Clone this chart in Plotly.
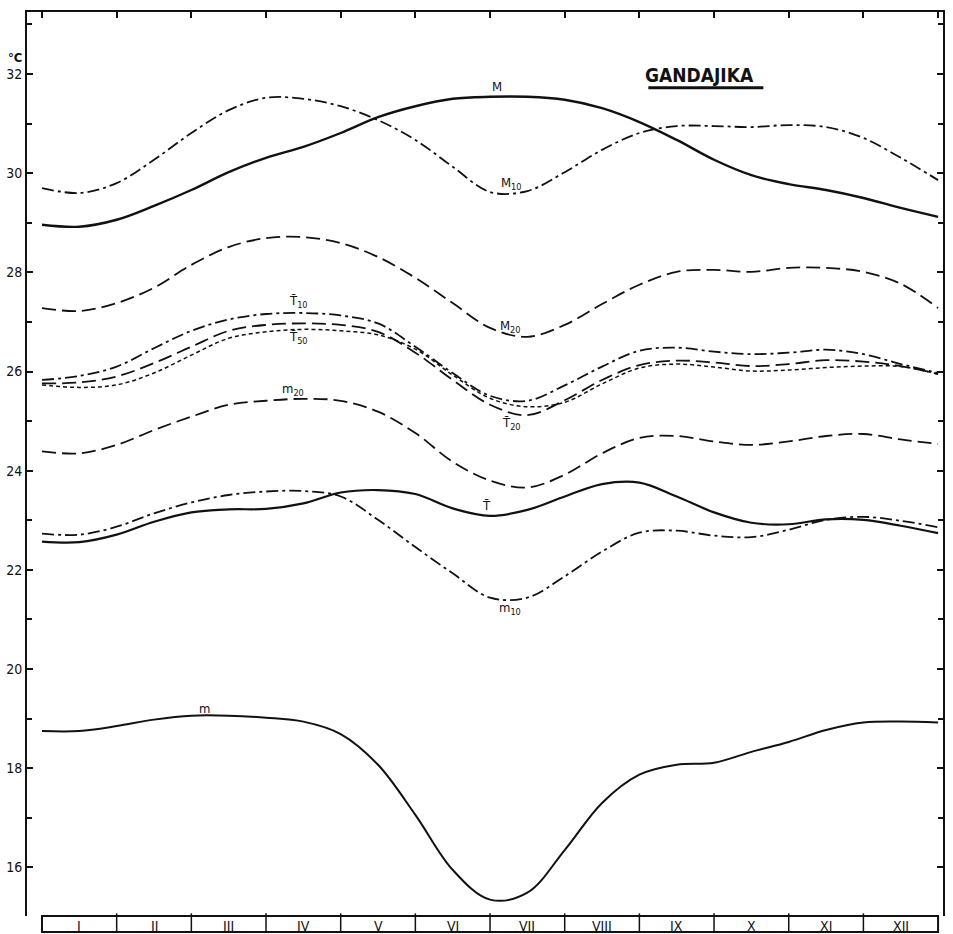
import plotly.graph_objects as go

# Month positions (0 = start of January, 12 = end of December), half-month steps
MONTH_POS = [0, 0.5, 1, 1.5, 2, 2.5, 3, 3.5, 4, 4.5, 5, 5.5, 6, 6.5,
             7, 7.5, 8, 8.5, 9, 9.5, 10, 10.5, 11, 11.5, 12]
MONTH_LABELS = ["I", "II", "III", "IV", "V", "VI", "VII", "VIII", "IX", "X", "XI", "XII"]
Y_TICKS = [16, 18, 20, 22, 24, 26, 28, 30, 32]

M = [28.96, 28.92, 29.06, 29.34, 29.66, 30.02, 30.31, 30.53, 30.81, 31.13, 31.35, 31.50, 31.54,
     31.54, 31.48, 31.31, 31.03, 30.67, 30.27, 29.96, 29.78, 29.66, 29.50, 29.30, 29.12]
M10 = [29.70, 29.60, 29.80, 30.27, 30.81, 31.27, 31.52, 31.50, 31.35, 31.07, 30.67, 30.13, 29.62,
       29.64, 30.02, 30.47, 30.81, 30.95, 30.95, 30.93, 30.97, 30.93, 30.71, 30.31, 29.86]
M20 = [27.28, 27.22, 27.38, 27.69, 28.15, 28.51, 28.69, 28.71, 28.59, 28.31, 27.89, 27.38, 26.88,
       26.70, 26.94, 27.36, 27.75, 28.01, 28.05, 28.01, 28.09, 28.09, 28.01, 27.77, 27.28]
T10 = [25.83, 25.91, 26.10, 26.47, 26.82, 27.05, 27.16, 27.18, 27.13, 26.97, 26.50, 25.97, 25.51,
       25.41, 25.72, 26.10, 26.42, 26.48, 26.40, 26.35, 26.38, 26.44, 26.35, 26.15, 25.97]
T20 = [25.76, 25.78, 25.90, 26.17, 26.50, 26.82, 26.94, 26.97, 26.94, 26.80, 26.38, 25.83, 25.33,
       25.12, 25.42, 25.83, 26.13, 26.22, 26.18, 26.11, 26.15, 26.23, 26.20, 26.11, 25.95]
T50 = [25.73, 25.68, 25.73, 25.97, 26.33, 26.67, 26.80, 26.85, 26.82, 26.74, 26.45, 25.93, 25.46,
       25.29, 25.38, 25.75, 26.07, 26.15, 26.09, 26.01, 26.03, 26.08, 26.11, 26.10, 25.95]
m20 = [24.39, 24.35, 24.52, 24.82, 25.09, 25.33, 25.41, 25.45, 25.41, 25.19, 24.76, 24.18, 23.80,
       23.66, 23.92, 24.35, 24.66, 24.70, 24.59, 24.52, 24.59, 24.70, 24.74, 24.63, 24.54]
T = [22.57, 22.56, 22.71, 22.97, 23.16, 23.22, 23.23, 23.34, 23.56, 23.61, 23.53, 23.24, 23.09,
     23.21, 23.48, 23.73, 23.76, 23.48, 23.16, 22.95, 22.92, 23.02, 23.01, 22.89, 22.74]
m10 = [22.73, 22.71, 22.87, 23.14, 23.36, 23.51, 23.58, 23.59, 23.48, 23.01, 22.46, 21.93, 21.44,
       21.44, 21.87, 22.37, 22.75, 22.79, 22.69, 22.66, 22.81, 23.01, 23.07, 22.99, 22.86]
m = [18.75, 18.75, 18.85, 18.98, 19.06, 19.06, 19.02, 18.94, 18.69, 18.07, 17.06, 15.95, 15.35,
     15.49, 16.35, 17.30, 17.87, 18.07, 18.11, 18.33, 18.53, 18.77, 18.92, 18.94, 18.92]

INK = "#111111"
FONT = "DejaVu Sans Condensed, DejaVu Sans, Arial"

DASHDOT = "12px,4px,3px,4px"
LONGDASH = "14px,6px"
SHORTDASH = "4px,3px"

series = [
    ("M", M, "solid", 2.4),
    ("M10", M10, DASHDOT, 1.8),
    ("M20", M20, LONGDASH, 1.8),
    ("T10", T10, DASHDOT, 1.8),
    ("T20", T20, LONGDASH, 1.8),
    ("T50", T50, SHORTDASH, 1.5),
    ("m20", m20, LONGDASH, 1.8),
    ("T", T, "solid", 2.2),
    ("m10", m10, DASHDOT, 1.8),
    ("m", m, "solid", 2.0),
]

fig = go.Figure()
for name, vals, dash, w in series:
    fig.add_trace(go.Scatter(
        x=MONTH_POS, y=vals, mode="lines", name=name,
        line=dict(color=INK, width=w, dash=dash, shape="spline", smoothing=1.0),
        showlegend=False, hoverinfo="skip"))

# curve labels
labels = [
    ("M", 6.09, 31.74),
    ("M<sub>10</sub>", 6.29, 29.80),
    ("M<sub>20</sub>", 6.27, 26.90),
    ("T\u0304<sub>10</sub>", 3.43, 27.42),
    ("T\u0304<sub>50</sub>", 3.43, 26.68),
    ("T\u0304<sub>20</sub>", 6.29, 24.96),
    ("m<sub>20</sub>", 3.36, 25.63),
    ("T\u0304", 5.95, 23.30),
    ("m<sub>10</sub>", 6.27, 21.22),
    ("m", 2.18, 19.20),
]
ann = []
for txt, xx, yy in labels:
    ann.append(dict(x=xx, y=yy, xref="x", yref="y", text=txt, showarrow=False,
                    font=dict(family=FONT, size=13, color=INK)))

ann.append(dict(x=8.81, y=31.98, xref="x", yref="y", text="<b>GANDAJIKA</b>", showarrow=False,
                font=dict(family=FONT, size=19, color=INK)))
ann.append(dict(x=0, y=32.33, xref="paper", yref="y", xanchor="right", text="<b>°C</b>",
                showarrow=False, xshift=-3, font=dict(family=FONT, size=13, color=INK)))

for i, lab in enumerate(MONTH_LABELS):
    ann.append(dict(x=i + 0.5, y=-0.0098, xref="x", yref="paper", text=lab, showarrow=False,
                    yanchor="middle", yshift=-1, font=dict(family=FONT, size=14, color=INK)))

shapes = []
# underline of title
shapes.append(dict(type="line", xref="x", yref="y", x0=8.12, x1=9.66, y0=31.72, y1=31.72,
                   line=dict(color=INK, width=3)))
# month strip
shapes.append(dict(type="rect", xref="x", yref="paper", x0=0, x1=12, y0=0, y1=-0.0177,
                   line=dict(color=INK, width=2)))
for k in range(1, 12):
    shapes.append(dict(type="line", xref="x", yref="paper", x0=k, x1=k, y0=0.003, y1=-0.0177,
                       line=dict(color=INK, width=1.5)))

fig.update_layout(
    width=953, height=934,
    autosize=False,
    margin=dict(l=27, r=10, t=12, b=18, pad=0, autoexpand=False),
    paper_bgcolor="white", plot_bgcolor="white",
    font=dict(family=FONT, color=INK),
    annotations=ann, shapes=shapes,
    xaxis=dict(range=[-0.2009, 12.066], side="top", tickvals=list(range(13)),
               ticks="inside", ticklen=6, tickwidth=1.5, tickcolor=INK, automargin=False,
               showticklabels=False, showline=True, linewidth=2, linecolor=INK,
               showgrid=False, zeroline=False),
    yaxis=dict(range=[15.02, 33.25], tickvals=Y_TICKS, ticktext=[str(v) for v in Y_TICKS],
               ticks="inside", ticklen=6, tickwidth=1.5, tickcolor=INK, automargin=False,
               minor=dict(dtick=1, ticks="inside", ticklen=5, tickwidth=1.5, tickcolor=INK),
               showline=True, linewidth=2, linecolor=INK, mirror="ticks",
               showgrid=False, zeroline=False,
               tickfont=dict(family=FONT, size=14, color=INK)),
)

fig.write_html("out.html", config={"displayModeBar": False},
               post_script="document.body.style.margin='0';document.body.style.overflow='hidden';")
